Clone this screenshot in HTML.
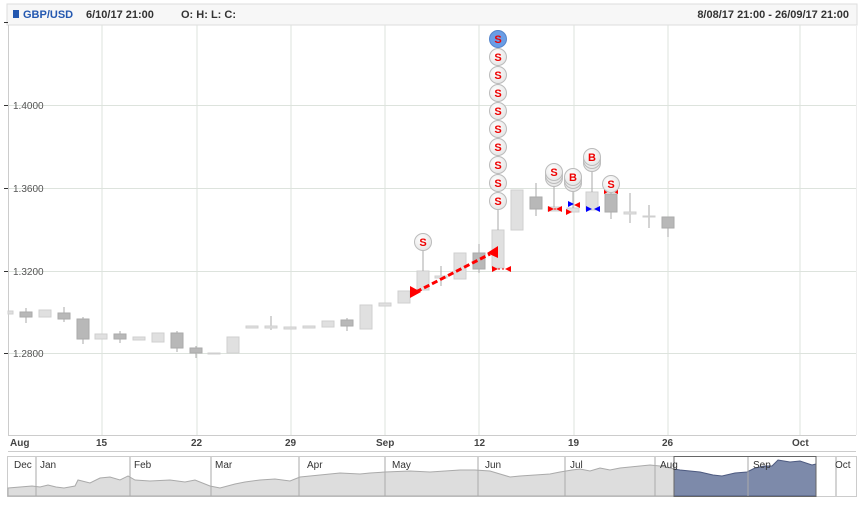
<!DOCTYPE html>
<html><head><style>
body{margin:0;background:#fff;}
svg{display:block;font-family:"Liberation Sans",sans-serif;}
</style></head><body>
<svg width="864" height="506" viewBox="0 0 864 506" xmlns="http://www.w3.org/2000/svg">
<defs>
<radialGradient id="cg" cx="0.4" cy="0.35" r="0.7"><stop offset="0" stop-color="#ffffff"/><stop offset="1" stop-color="#e4e4e4"/></radialGradient>
<g id="S"><circle r="8.5" fill="url(#cg)" stroke="#bbb"/><text y="4" text-anchor="middle" font-size="11" font-weight="bold" fill="#e00">S</text></g>
<g id="B"><circle r="8.5" fill="url(#cg)" stroke="#bbb"/><text y="4" text-anchor="middle" font-size="11" font-weight="bold" fill="#e00">B</text></g>
</defs>
<rect x="7" y="4" width="850" height="21" fill="#f7f7f7" stroke="#ddd"/>
<rect x="13" y="10" width="6" height="8" fill="#2458b0"/>
<text x="23" y="18" font-size="11" font-weight="bold" fill="#2458b0">GBP/USD</text>
<text x="86" y="18" font-size="11" font-weight="bold" fill="#333">6/10/17 21:00</text>
<text x="181" y="18" font-size="11" font-weight="bold" fill="#333">O: H: L: C:</text>
<text x="849" y="18" font-size="11" font-weight="bold" fill="#333" text-anchor="end">8/08/17 21:00 - 26/09/17 21:00</text>
<g stroke="#dde3dd" stroke-width="1">
<line x1="102" y1="25" x2="102" y2="435"/><line x1="197" y1="25" x2="197" y2="435"/><line x1="291" y1="25" x2="291" y2="435"/><line x1="385" y1="25" x2="385" y2="435"/><line x1="479" y1="25" x2="479" y2="435"/><line x1="574" y1="25" x2="574" y2="435"/><line x1="668" y1="25" x2="668" y2="435"/><line x1="800" y1="25" x2="800" y2="435"/>
<line x1="8" y1="105.5" x2="856" y2="105.5"/><line x1="8" y1="188.5" x2="856" y2="188.5"/><line x1="8" y1="271.5" x2="856" y2="271.5"/><line x1="8" y1="353.5" x2="856" y2="353.5"/>
</g>
<line x1="8.5" y1="25" x2="8.5" y2="435" stroke="#ccc"/>
<line x1="856.5" y1="25" x2="856.5" y2="435" stroke="#eee"/>
<g stroke="#333"><line x1="4" y1="105.5" x2="8" y2="105.5"/><line x1="4" y1="188.5" x2="8" y2="188.5"/><line x1="4" y1="271.5" x2="8" y2="271.5"/><line x1="4" y1="353.5" x2="8" y2="353.5"/><line x1="4" y1="22.5" x2="8" y2="22.5"/></g>
<g font-size="10" fill="#555"><text x="13" y="109">1.4000</text><text x="13" y="192">1.3600</text><text x="13" y="275">1.3200</text><text x="13" y="357">1.2800</text></g>
<line x1="8" y1="435.5" x2="856" y2="435.5" stroke="#ccc"/>
<line x1="8" y1="451.5" x2="856" y2="451.5" stroke="#ccc"/>
<g font-size="10" font-weight="bold" fill="#444">
<text x="10" y="446">Aug</text><text x="96" y="446">15</text><text x="191" y="446">22</text><text x="285" y="446">29</text><text x="376" y="446">Sep</text><text x="474" y="446">12</text><text x="568" y="446">19</text><text x="662" y="446">26</text><text x="792" y="446">Oct</text>
</g>
<!-- candles -->
<g stroke-width="1">
<g stroke="#aaa">
<line x1="26" y1="308" x2="26" y2="323"/><line x1="64" y1="307" x2="64" y2="322"/><line x1="83" y1="317" x2="83" y2="344"/><line x1="120" y1="331" x2="120" y2="343"/><line x1="177" y1="331" x2="177" y2="352"/><line x1="196" y1="346" x2="196" y2="358"/><line x1="271" y1="316" x2="271" y2="330"/><line x1="347" y1="318" x2="347" y2="331"/><line x1="441" y1="266" x2="441" y2="286"/><line x1="479" y1="244" x2="479" y2="273"/><line x1="536" y1="183" x2="536" y2="216"/><line x1="611" y1="192" x2="611" y2="219"/><line x1="630" y1="193" x2="630" y2="223"/><line x1="649" y1="205" x2="649" y2="228"/><line x1="668" y1="217" x2="668" y2="237"/>
</g>
<g fill="#e0e0e0" stroke="#cfcfcf">
<rect x="8" y="311" width="5" height="3"/><rect x="39" y="310" width="12" height="7"/><rect x="95" y="334" width="12" height="5"/><rect x="133" y="337" width="12" height="3"/><rect x="152" y="333" width="12" height="9"/><rect x="208" y="353" width="12" height="1"/><rect x="227" y="337" width="12" height="16"/><rect x="246" y="326" width="12" height="2"/><rect x="265" y="326" width="12" height="2"/><rect x="284" y="327" width="12" height="2"/><rect x="303" y="326" width="12" height="2"/><rect x="322" y="321" width="12" height="6"/><rect x="360" y="305" width="12" height="24"/><rect x="379" y="303" width="12" height="3"/><rect x="398" y="291" width="12" height="12"/><rect x="417" y="271" width="12" height="19"/><rect x="435" y="276" width="12" height="2"/><rect x="454" y="253" width="12" height="26"/><rect x="492" y="230" width="12" height="38"/><rect x="511" y="190" width="12" height="40"/><rect x="548" y="207" width="12" height="4"/><rect x="567" y="208" width="12" height="4"/><rect x="586" y="192" width="12" height="18"/><rect x="624" y="212" width="12" height="2"/><rect x="643" y="216" width="12" height="1"/>
</g>
<g fill="#b8b8b8" stroke="#aaa">
<rect x="20" y="312" width="12" height="5"/><rect x="58" y="313" width="12" height="6"/><rect x="77" y="319" width="12" height="20"/><rect x="114" y="334" width="12" height="5"/><rect x="171" y="333" width="12" height="15"/><rect x="190" y="348" width="12" height="5"/><rect x="341" y="320" width="12" height="6"/><rect x="473" y="253" width="12" height="16"/><rect x="530" y="197" width="12" height="12"/><rect x="605" y="194" width="12" height="18"/><rect x="662" y="217" width="12" height="11"/>
</g>
</g>
<!-- marker stems -->
<g stroke="#aaa">
<line x1="498" y1="40" x2="498" y2="230"/><line x1="423" y1="242" x2="423" y2="271"/><line x1="554" y1="172" x2="554" y2="207"/><line x1="573" y1="177" x2="573" y2="208"/><line x1="592" y1="157" x2="592" y2="192"/><line x1="611" y1="184" x2="611" y2="194"/>
</g>
<!-- arrow -->
<line x1="416" y1="292" x2="490" y2="254" stroke="#f00" stroke-width="3" stroke-dasharray="6,3"/>
<polygon points="410,286 410,298 421,292" fill="#f00"/>
<polygon points="498,246 498,258 487,253" fill="#f00"/>
<g fill="#f00"><polygon points="492,266 492,272 498,269"/><polygon points="511,266 511,272 505,269"/><polygon points="548,206 548,212 554,209"/><polygon points="562,206 562,212 556,209"/><polygon points="566,209 566,215 572,212"/><polygon points="580,202 580,208 574,205"/><polygon points="604,188 604,194 610,191"/><polygon points="618,188 618,194 612,191"/></g>
<g fill="#00f"><polygon points="568,201 568,207 574,204"/><polygon points="586,206 586,212 592,209"/><polygon points="600,206 600,212 594,209"/></g>
<g stroke="#f00" stroke-dasharray="2,2"><line x1="494" y1="269" x2="509" y2="269"/><line x1="550" y1="209" x2="560" y2="209"/><line x1="606" y1="191" x2="616" y2="191"/></g>
<!-- markers -->
<circle cx="498" cy="39" r="8.5" fill="#6a9de6" stroke="#5585cc"/><text x="498" y="43" text-anchor="middle" font-size="11" font-weight="bold" fill="#e00">S</text>
<use href="#S" x="498" y="57"/><use href="#S" x="498" y="75"/><use href="#S" x="498" y="93"/><use href="#S" x="498" y="111"/><use href="#S" x="498" y="129"/><use href="#S" x="498" y="147"/><use href="#S" x="498" y="165"/><use href="#S" x="498" y="183"/><use href="#S" x="498" y="201"/>
<use href="#S" x="423" y="242"/>
<use href="#S" x="554" y="178"/><use href="#S" x="554" y="175"/><use href="#S" x="554" y="172"/>
<use href="#B" x="573" y="183"/><use href="#B" x="573" y="180"/><use href="#B" x="573" y="177"/>
<use href="#B" x="592" y="163"/><use href="#B" x="592" y="160"/><use href="#B" x="592" y="157"/>
<use href="#S" x="611" y="184"/>
<!-- navigator -->
<rect x="7.5" y="456.5" width="849" height="40" fill="#fff" stroke="#ccc"/>
<path d="M8,488 L20,487 L32,486 L40,487 L48,485 L56,487 L64,488 L75,486 L78,480 L90,483 L100,478 L110,477 L120,480 L128,476 L135,480 L150,481 L170,480 L185,482 L195,480 L210,486 L220,488 L235,484 L245,482 L260,480 L275,479 L290,481 L300,477 L320,475 L340,473 L360,474 L370,473 L385,472 L410,471 L430,472 L445,471 L460,470 L475,470 L490,471 L500,474 L510,477 L520,476 L535,475 L550,474 L560,472 L572,470 L580,469 L590,471 L600,468 L610,470 L620,468 L630,467 L640,466 L650,465 L660,466 L670,468 L674,469 L674,496 L8,496 Z" fill="#ddd" stroke="#aaa"/>
<path d="M674,469 L680,470 L700,472 L713,475 L722,476 L735,473 L747,472 L755,468 L765,466 L772,466 L778,460 L790,462 L800,461 L812,465 L816,464 L816,496 L674,496 Z" fill="#7d8aaa" stroke="#4d5a80"/>
<rect x="674" y="456.5" width="142" height="40" fill="none" stroke="#666"/>
<g stroke="#aaa"><line x1="36" y1="457" x2="36" y2="496"/><line x1="130" y1="457" x2="130" y2="496"/><line x1="211" y1="457" x2="211" y2="496"/><line x1="299" y1="457" x2="299" y2="496"/><line x1="385" y1="457" x2="385" y2="496"/><line x1="478" y1="457" x2="478" y2="496"/><line x1="565" y1="457" x2="565" y2="496"/><line x1="655" y1="457" x2="655" y2="496"/><line x1="748" y1="457" x2="748" y2="496"/><line x1="836" y1="457" x2="836" y2="496"/></g>
<g font-size="10" fill="#333"><text x="14" y="468">Dec</text><text x="40" y="468">Jan</text><text x="134" y="468">Feb</text><text x="215" y="468">Mar</text><text x="307" y="468">Apr</text><text x="392" y="468">May</text><text x="485" y="468">Jun</text><text x="570" y="468">Jul</text><text x="660" y="468">Aug</text><text x="753" y="468">Sep</text><text x="835" y="468">Oct</text></g>
</svg>
</body></html>
